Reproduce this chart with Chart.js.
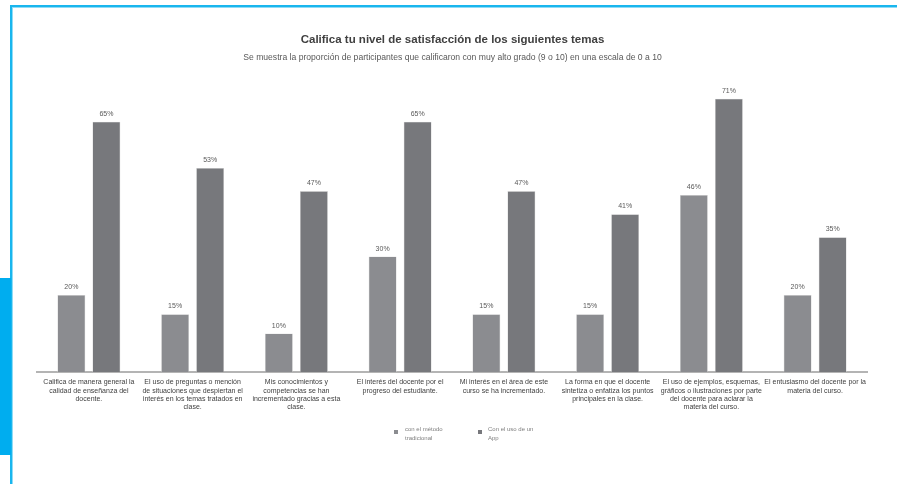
<!DOCTYPE html>
<html>
<head>
<meta charset="utf-8">
<script src="https://cdn.jsdelivr.net/npm/chart.js@4"></script>
<style>
  html, body { margin:0; padding:0; background:#fff; }
  #wrap { position:relative; width:897px; height:484px; overflow:hidden; font-family:"Liberation Sans", Arial, sans-serif; }
  #c { position:absolute; left:0; top:0; }
  .frameTop { position:absolute; left:10px; top:5px; width:887px; height:2px; background:#19b6ee; }
  .frameTop2 { position:absolute; left:12px; top:7px; width:885px; height:1px; background:#8fdcf6; }
  .frameLeft { position:absolute; left:10px; top:5px; width:2px; height:479px; background:#19b6ee; }
  .frameLeft2 { position:absolute; left:12px; top:7px; width:1px; height:477px; background:#8fdcf6; }
  .sideBar { position:absolute; left:0; top:278px; width:11px; height:177px; background:#00adef; }
  .title { position:absolute; left:0; width:897px; text-align:center; top:33px; font-size:11.5px; font-weight:bold; color:#404040; padding-left:8px; box-sizing:border-box;}
  .subtitle { position:absolute; left:0; width:897px; text-align:center; top:52px; font-size:8.6px; color:#595959; padding-left:8px; box-sizing:border-box;}
  .leg { position:absolute; font-size:6px; color:#7f7f7f; line-height:9px; }
  .sq { position:absolute; width:4px; height:4px; }
</style>
</head>
<body>
<div id="wrap">
  <canvas id="c" width="897" height="484"></canvas>
  <div class="frameTop"></div><div class="frameTop2"></div>
  <div class="frameLeft"></div><div class="frameLeft2"></div>
  <div class="sideBar"></div>
  <div class="title">Califica tu nivel de satisfacción de los siguientes temas</div>
  <div class="subtitle">Se muestra la proporción de participantes que calificaron con muy alto grado (9 o 10) en una escala de 0 a 10</div>
  <div class="sq" id="sq1" style="left:394px; top:430px;"></div>
  <div class="leg" id="lg1" style="left:405px; top:425px;"></div>
  <div class="sq" id="sq2" style="left:478px; top:430px;"></div>
  <div class="leg" id="lg2" style="left:488px; top:425px;"></div>
</div>
<script>
const categories = [
  ["Califica de manera general la", "calidad de enseñanza del", "docente."],
  ["El uso de preguntas o mención", "de situaciones que despiertan el", "interés en los temas tratados en", "clase."],
  ["Mis conocimientos y", "competencias se han", "incrementado gracias a esta", "clase."],
  ["El interés del docente por el", "progreso del estudiante."],
  ["Mi interés en el área de este", "curso se ha incrementado."],
  ["La forma en que el docente", "sintetiza o enfatiza los puntos", "principales en la clase."],
  ["El uso de ejemplos, esquemas,", "gráficos o ilustraciones por parte", "del docente para aclarar la", "materia del curso."],
  ["El entusiasmo del docente por la", "materia del curso."]
];
const seriesNames = [["con el método", "tradicional"], ["Con el uso de un", "App"]];
const traditional = [20, 15, 10, 30, 15, 15, 46, 20];
const withApp = [65, 53, 47, 65, 47, 41, 71, 35];
const colors = ["#8b8c90", "#77787c"];

document.getElementById('sq1').style.background = colors[0];
document.getElementById('sq2').style.background = colors[1];
document.getElementById('lg1').innerHTML = seriesNames[0].join('<br>');
document.getElementById('lg2').innerHTML = seriesNames[1].join('<br>');

const labelPlugin = {
  id: 'valLabels',
  afterDatasetsDraw(chart) {
    const ctx = chart.ctx;
    ctx.save();
    ctx.font = '7px "Liberation Sans", Arial, sans-serif';
    ctx.fillStyle = '#595959';
    ctx.textAlign = 'center';
    ctx.textBaseline = 'alphabetic';
    chart.data.datasets.forEach((ds, i) => {
      chart.getDatasetMeta(i).data.forEach((bar, j) => {
        ctx.fillText(ds.data[j] + '%', bar.x, bar.y - 6);
      });
    });
    ctx.restore();
  }
};

new Chart(document.getElementById('c'), {
  type: 'bar',
  data: {
    labels: categories,
    datasets: [
      { label: seriesNames[0].join(' '), data: traditional, backgroundColor: colors[0], borderColor: '#d8d8d8', borderWidth: 0.6 },
      { label: seriesNames[1].join(' '), data: withApp, backgroundColor: colors[1], borderColor: '#d8d8d8', borderWidth: 0.6 }
    ]
  },
  options: {
    responsive: false,
    animation: false,
    devicePixelRatio: 1,
    layout: { padding: { left: 37, right: 30, top: 64, bottom: 0 } },
    datasets: { bar: { categoryPercentage: 0.675, barPercentage: 0.8 } },
    plugins: { legend: { display: false }, title: { display: false }, tooltip: { enabled: false } },
    scales: {
      x: {
        grid: { display: false, drawTicks: false },
        border: { display: true, color: '#b4b4b4', width: 2 },
        ticks: { color: '#404040', font: { size: 7, family: '"Liberation Sans", Arial, sans-serif' }, padding: 6, maxRotation: 0, autoSkip: false },
        afterFit(scale) { scale.height = 112; }
      },
      y: {
        display: true,
        min: 0, max: 80,
        grid: { display: false },
        border: { display: false },
        ticks: { display: false },
        afterFit(scale) { scale.width = 0; }
      }
    }
  },
  plugins: [labelPlugin]
});
</script>
</body>
</html>
